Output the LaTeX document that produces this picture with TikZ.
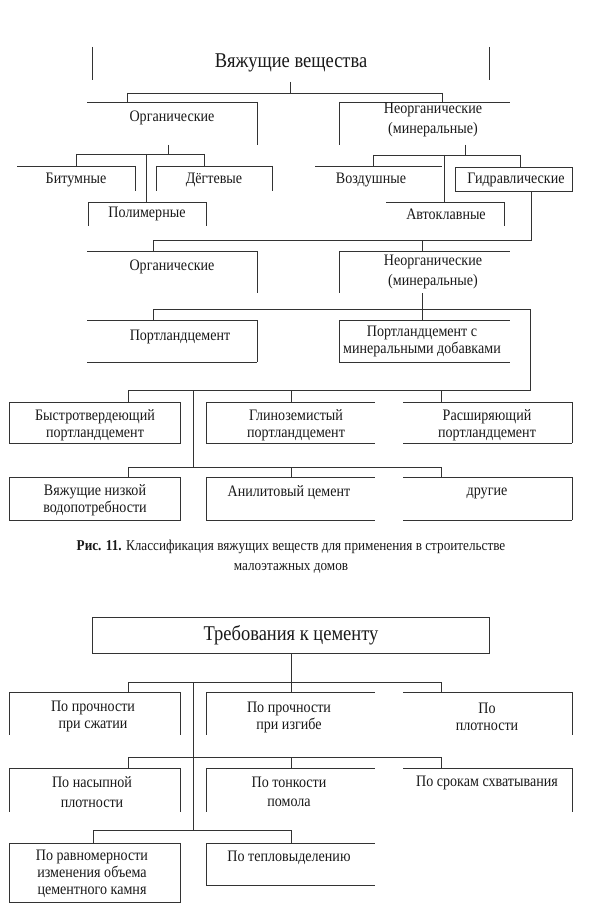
\documentclass[tikz,border=0pt]{standalone}
\usepackage{fontspec}
\setmainfont{Liberation Serif}[FakeStretch=0.88]
\tikzset{
  bx/.style={inner sep=0pt, outer sep=0pt, draw=none},
  ln/.style={draw=black!80, line width=0.9pt},
  txt/.style={inner sep=0pt, font=\fontsize{16}{17}\selectfont, align=center, text=black!90},
  txtw/.style={txt, font=\fontsize{16}{19.5}\selectfont},
  big/.style={txt, font=\fontsize{21}{24}\selectfont},
  captxt/.style={txt, font=\fontsize{15}{20}\selectfont},
}
\newcommand\mkbox[5]{\node[bx, minimum width={(#4-#2)*1pt}, minimum height={(#5-#3)*1pt}] (#1) at ({(#2+#4)/2},{(#3+#5)/2}) {};}
\newcommand\bxT[1]{\draw[ln] (#1.north west) -- (#1.north east);}
\newcommand\bxB[1]{\draw[ln] (#1.south west) -- (#1.south east);}
\newcommand\bxL[1]{\draw[ln] (#1.north west) -- (#1.south west);}
\newcommand\bxR[1]{\draw[ln] (#1.north east) -- (#1.south east);}
\newcommand\bxA[1]{\draw[ln] (#1.north west) rectangle (#1.south east);}
\begin{document}
\begin{tikzpicture}[x=1pt,y=-1pt]
\useasboundingbox[fill=white] (0,0) rectangle (589,912);

% ---------------- Section 1 ----------------
\mkbox{root}{92}{47}{489}{80} \bxL{root} \bxR{root}
\node[big] (roott) at (291,63) {Вяжущие вещества};

\mkbox{org1}{87}{102}{257}{145} \bxT{org1} \bxR{org1}
\node[txt] (org1t) at (172,118) {Органические};
\mkbox{neo1}{339}{102}{510}{145} \bxT{neo1} \bxL{neo1}
\node[txtw] (neo1t) at (433,120) {Неорганические\\(минеральные)};

\coordinate (r0) at (290,82);
\coordinate (j1) at (290,93);
\coordinate (j1a) at (127,93);
\coordinate (j1b) at (442,93);
\draw[ln] (r0) -- (j1);
\draw[ln] (j1a) -- (j1b);
\draw[ln] (j1a) -- (j1a |- org1.north);
\draw[ln] (j1b) -- (j1b |- neo1.north);

\mkbox{bit}{17}{166}{135}{191} \bxT{bit} \bxR{bit}
\node[txt] (bitt) at (76,180) {Битумные};
\mkbox{deg}{156}{166}{272}{191} \bxT{deg} \bxL{deg} \bxR{deg}
\node[txt] (degt) at (214,180) {Дёгтевые};
\mkbox{pol}{88}{202}{206}{226} \bxT{pol} \bxL{pol} \bxR{pol}
\node[txt] (polt) at (147,214) {Полимерные};

\coordinate (o1s) at (168,145);
\coordinate (j2) at (168,154);
\coordinate (j2a) at (76,154);
\coordinate (j2b) at (204,154);
\coordinate (j2c) at (146,154);
\draw[ln] (o1s) -- (j2);
\draw[ln] (j2a) -- (j2b);
\draw[ln] (j2a) -- (j2a |- bit.north);
\draw[ln] (j2b) -- (j2b |- deg.north);
\draw[ln] (j2c) -- (j2c |- pol.north);

\mkbox{voz}{315}{166}{442}{191} \bxT{voz}
\node[txt] (vozt) at (371,180) {Воздушные};
\mkbox{gid}{455}{167}{572}{191} \bxA{gid}
\node[txt] (gidt) at (516,180) {Гидравлические};
\mkbox{avt}{386}{202}{504}{226} \bxT{avt} \bxR{avt}
\node[txt] (avtt) at (446,214) {Автоклавные};

\coordinate (n1s) at (465,145);
\coordinate (j3) at (465,155);
\coordinate (j3a) at (373,155);
\coordinate (j3b) at (520,155);
\coordinate (j3c) at (444,155);
\draw[ln] (n1s) -- (j3);
\draw[ln] (j3a) -- (j3b);
\draw[ln] (j3a) -- (j3a |- voz.north);
\draw[ln] (j3b) -- (j3b |- gid.north);
\draw[ln] (j3c) -- (j3c |- avt.north);

\mkbox{org2}{87}{251}{257}{293} \bxT{org2} \bxR{org2}
\node[txt] (org2t) at (172,267) {Органические};
\mkbox{neo2}{339}{251}{510}{293} \bxT{neo2} \bxL{neo2}
\node[txtw] (neo2t) at (433,272) {Неорганические\\(минеральные)};

\coordinate (gs) at (531,191);
\coordinate (j4) at (531,240);
\coordinate (j4a) at (153,240);
\coordinate (j4b) at (422,240);
\draw[ln] (gs) -- (j4) -- (j4a);
\draw[ln] (j4a) -- (j4a |- org2.north);
\draw[ln] (j4b) -- (j4b |- neo2.north);

\mkbox{pc}{87}{320}{257}{362} \bxT{pc} \bxR{pc} \bxB{pc}
\node[txt] (pct) at (180,337) {Портландцемент};
\mkbox{pcm}{339}{320}{510}{362} \bxT{pcm} \bxL{pcm} \bxB{pcm}
\node[txt] (pcmt) at (422,341) {Портландцемент с\\минеральными добавками};

\coordinate (n2s) at (422,293);
\coordinate (j5) at (422,309);
\coordinate (j5a) at (153,309);
\coordinate (j5b) at (530,309);
\draw[ln] (n2s) -- (j5);
\draw[ln] (j5a) -- (j5b);
\draw[ln] (j5a) -- (j5a |- pc.north);
\draw[ln] (j5) -- (j5 |- pcm.north);

\mkbox{bpc}{9}{402}{180}{443} \bxA{bpc}
\node[txt] (bpct) at (95,425) {Быстротвердеющий\\портландцемент};
\mkbox{gpc}{206}{402}{375}{443} \bxT{gpc} \bxL{gpc} \bxB{gpc}
\node[txt] (gpct) at (296,425) {Глиноземистый\\портландцемент};
\mkbox{rpc}{403}{402}{572}{443} \bxT{rpc} \bxR{rpc} \bxB{rpc}
\node[txt] (rpct) at (487,425) {Расширяющий\\портландцемент};

\coordinate (j6) at (530,390);
\coordinate (j6a) at (128,390);
\coordinate (j6b) at (291,390);
\coordinate (j6c) at (441,390);
\coordinate (j6d) at (193,390);
\draw[ln] (j5b) -- (j6) -- (j6a);
\draw[ln] (j6a) -- (j6a |- bpc.north);
\draw[ln] (j6b) -- (j6b |- gpc.north);
\draw[ln] (j6c) -- (j6c |- rpc.north);

\mkbox{vnv}{9}{477}{180}{520} \bxA{vnv}
\node[txt] (vnvt) at (95,500) {Вяжущие низкой\\водопотребности};
\mkbox{ac}{206}{477}{375}{520} \bxT{ac} \bxL{ac} \bxB{ac}
\node[txt] (act) at (289,493) {Анилитовый цемент};
\mkbox{dr}{403}{477}{572}{520} \bxT{dr} \bxR{dr} \bxB{dr}
\node[txt] (drt) at (487,493) {другие};

\coordinate (j7) at (193,467);
\coordinate (j7a) at (128,467);
\coordinate (j7b) at (291,467);
\coordinate (j7c) at (441,467);
\draw[ln] (j6d) -- (j7);
\draw[ln] (j7a) -- (j7c);
\draw[ln] (j7a) -- (j7a |- vnv.north);
\draw[ln] (j7b) -- (j7b |- ac.north);
\draw[ln] (j7c) -- (j7c |- dr.north);

\node[captxt] (caption) at (291,557) {\textbf{Рис. 11.} Классификация вяжущих веществ для применения в строительстве\\малоэтажных домов};

% ---------------- Section 2 ----------------
\mkbox{tr}{92}{617}{489}{653} \bxA{tr}
\node[big] (trt) at (291,635) {Требования к цементу};

\mkbox{ps}{9}{692}{180}{735} \bxT{ps} \bxL{ps} \bxR{ps}
\node[txt] (pst) at (93,716) {По прочности\\при сжатии};
\mkbox{pi}{206}{692}{375}{735} \bxT{pi} \bxL{pi}
\node[txt] (pit) at (289,717) {По прочности\\при изгибе};
\mkbox{pp}{403}{692}{572}{735} \bxT{pp} \bxR{pp}
\node[txt] (ppt) at (487,717) {По\\плотности};

\coordinate (j8) at (291,682);
\coordinate (j8a) at (128,682);
\coordinate (j8b) at (441,682);
\coordinate (j8c) at (193,682);
\draw[ln] (tr.south -| j8) -- (j8);
\draw[ln] (j8a) -- (j8b);
\draw[ln] (j8a) -- (j8a |- ps.north);
\draw[ln] (j8) -- (j8 |- pi.north);
\draw[ln] (j8b) -- (j8b |- pp.north);

\mkbox{pn}{9}{768}{180}{812} \bxT{pn} \bxL{pn} \bxR{pn}
\node[txtw] (pnt) at (92,792) {По насыпной\\плотности};
\mkbox{pt}{206}{768}{375}{812} \bxT{pt} \bxL{pt}
\node[txtw] (ptt) at (289,792) {По тонкости\\помола};
\mkbox{ss}{403}{768}{572}{812} \bxT{ss} \bxR{ss}
\node[txt] (sst) at (487,783) {По срокам схватывания};

\coordinate (j9) at (193,757);
\coordinate (j9a) at (128,757);
\coordinate (j9b) at (291,757);
\coordinate (j9c) at (441,757);
\draw[ln] (j8c) -- (j9);
\draw[ln] (j9a) -- (j9c);
\draw[ln] (j9a) -- (j9a |- pn.north);
\draw[ln] (j9b) -- (j9b |- pt.north);
\draw[ln] (j9c) -- (j9c |- ss.north);

\mkbox{pr}{9}{843}{180}{902} \bxA{pr}
\node[txt] (prt) at (92,874) {По равномерности\\изменения объема\\цементного камня};
\mkbox{tp}{206}{843}{375}{885} \bxT{tp} \bxL{tp} \bxB{tp}
\node[txt] (tpt) at (289,858) {По тепловыделению};

\coordinate (j10) at (193,830);
\coordinate (j10a) at (93,830);
\coordinate (j10b) at (291,830);
\draw[ln] (j9) -- (j10);
\draw[ln] (j10a) -- (j10b);
\draw[ln] (j10a) -- (j10a |- pr.north);
\draw[ln] (j10b) -- (j10b |- tp.north);
\end{tikzpicture}
\end{document}
